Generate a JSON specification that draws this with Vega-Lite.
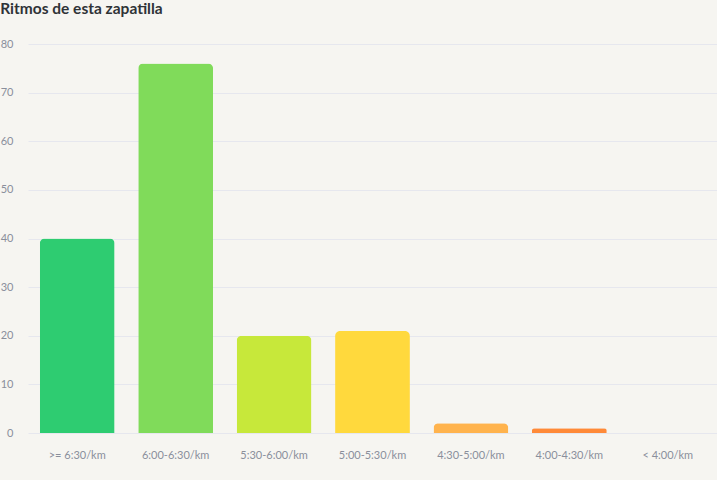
{
  "$schema": "https://vega.github.io/schema/vega-lite/v6.json",
  "autosize": {"type": "fit", "contains": "padding"},
  "width": 717,
  "height": 480,
  "padding": {"left": 0, "top": 1, "right": 0, "bottom": 20},
  "background": "#f6f5f1",
  "title": {
    "text": "Ritmos de esta zapatilla",
    "anchor": "start",
    "frame": "bounds",
    "font": "Lato",
    "fontSize": 15.5,
    "fontWeight": "bold",
    "color": "#2f3337",
    "offset": 21
  },
  "config": {
    "view": {"stroke": null},
    "font": "Lato"
  },
  "data": {
    "values": [
      {"ritmo": ">= 6:30/km", "count": 40, "color": "#2ecc71"},
      {"ritmo": "6:00-6:30/km", "count": 76, "color": "#80db5a"},
      {"ritmo": "5:30-6:00/km", "count": 20, "color": "#c7e83a"},
      {"ritmo": "5:00-5:30/km", "count": 21, "color": "#ffd93d"},
      {"ritmo": "4:30-5:00/km", "count": 2, "color": "#ffb34d"},
      {"ritmo": "4:00-4:30/km", "count": 1, "color": "#ff8a38"},
      {"ritmo": "< 4:00/km", "count": 0, "color": "#ff6b35"}
    ]
  },
  "mark": {"type": "bar", "cornerRadiusTopLeft": 5, "cornerRadiusTopRight": 5},
  "encoding": {
    "x": {
      "field": "ritmo",
      "type": "nominal",
      "sort": null,
      "scale": {"paddingInner": 0.24, "paddingOuter": 0.12},
      "axis": {
        "title": null,
        "labelAngle": 0,
        "labelColor": "#8a8f9c",
        "labelFontSize": 11,
        "labelPadding": 16,
        "ticks": false,
        "domain": false
      }
    },
    "y": {
      "field": "count",
      "type": "quantitative",
      "scale": {"domain": [0, 80]},
      "axis": {
        "title": null,
        "values": [0, 10, 20, 30, 40, 50, 60, 70, 80],
        "labelColor": "#8a8f9c",
        "labelFontSize": 11,
        "labelPadding": 15,
        "ticks": false,
        "domain": false,
        "gridColor": "#e6e7ee",
        "gridWidth": 1
      }
    },
    "color": {"field": "color", "type": "nominal", "scale": null, "legend": null}
  }
}
